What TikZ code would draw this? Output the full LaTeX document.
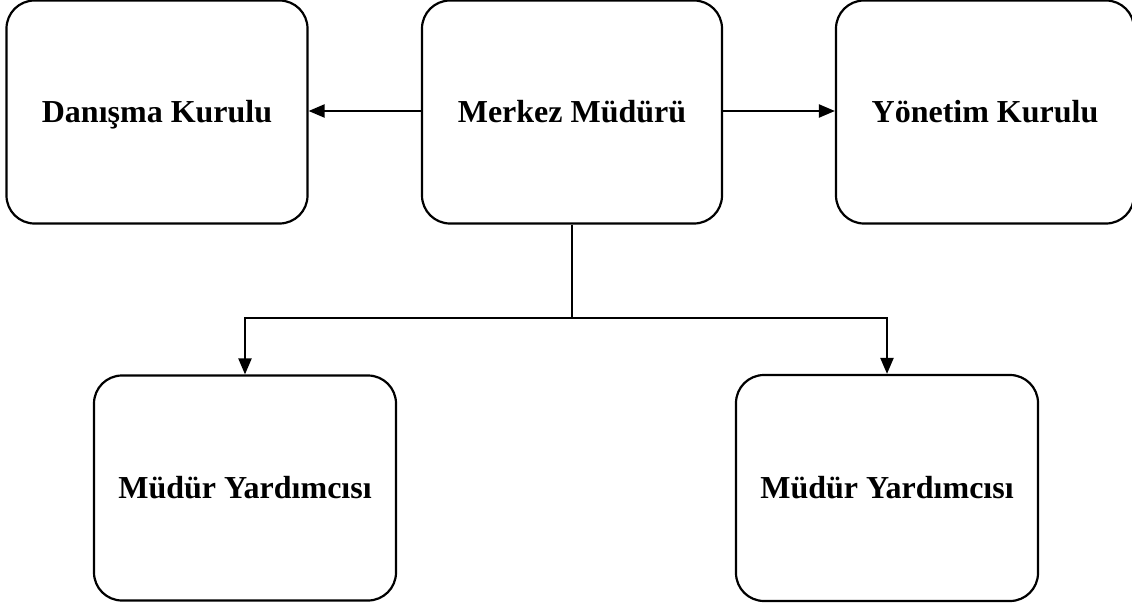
\documentclass[tikz,border=0pt]{standalone}
\usepackage{fontspec}
\setmainfont{Liberation Serif}
\usetikzlibrary{arrows.meta}
\begin{document}
\begin{tikzpicture}[x=1pt,y=-1pt,
  box/.style={draw,line width=2.2pt,rounded corners=28pt,inner sep=0pt,
    text height=24pt,text depth=4pt,
    font=\fontsize{32}{36}\selectfont\bfseries},
  conn/.style={line width=2.2pt,-{Triangle[length=16pt,width=13pt]}},
  plain/.style={line width=2.2pt}]
\useasboundingbox (0,0) rectangle (1132,605);
\node[box,minimum width=301pt,minimum height=223pt] (dan) at (157,112) {Danışma Kurulu};
\node[box,minimum width=300pt,minimum height=223pt] (mer) at (572,112) {Merkez Müdürü};
\node[box,minimum width=298pt,minimum height=223pt] (yon) at (985,112) {Yönetim Kurulu};
\node[box,minimum width=302pt,minimum height=225pt] (ml) at (245,488) {Müdür Yardımcısı};
\node[box,minimum width=302pt,minimum height=226pt] (mr) at (887,488) {Müdür Yardımcısı};
\coordinate (j) at (572,318);
\draw[conn] (mer.west |- 0,111) -- (dan.east |- 0,111);
\draw[conn] (mer.east |- 0,111) -- (yon.west |- 0,111);
\draw[plain] (mer.south) -- (j);
\draw[conn] (j) -| (ml.north);
\draw[conn] (j) -| (mr.north);
\end{tikzpicture}
\end{document}
